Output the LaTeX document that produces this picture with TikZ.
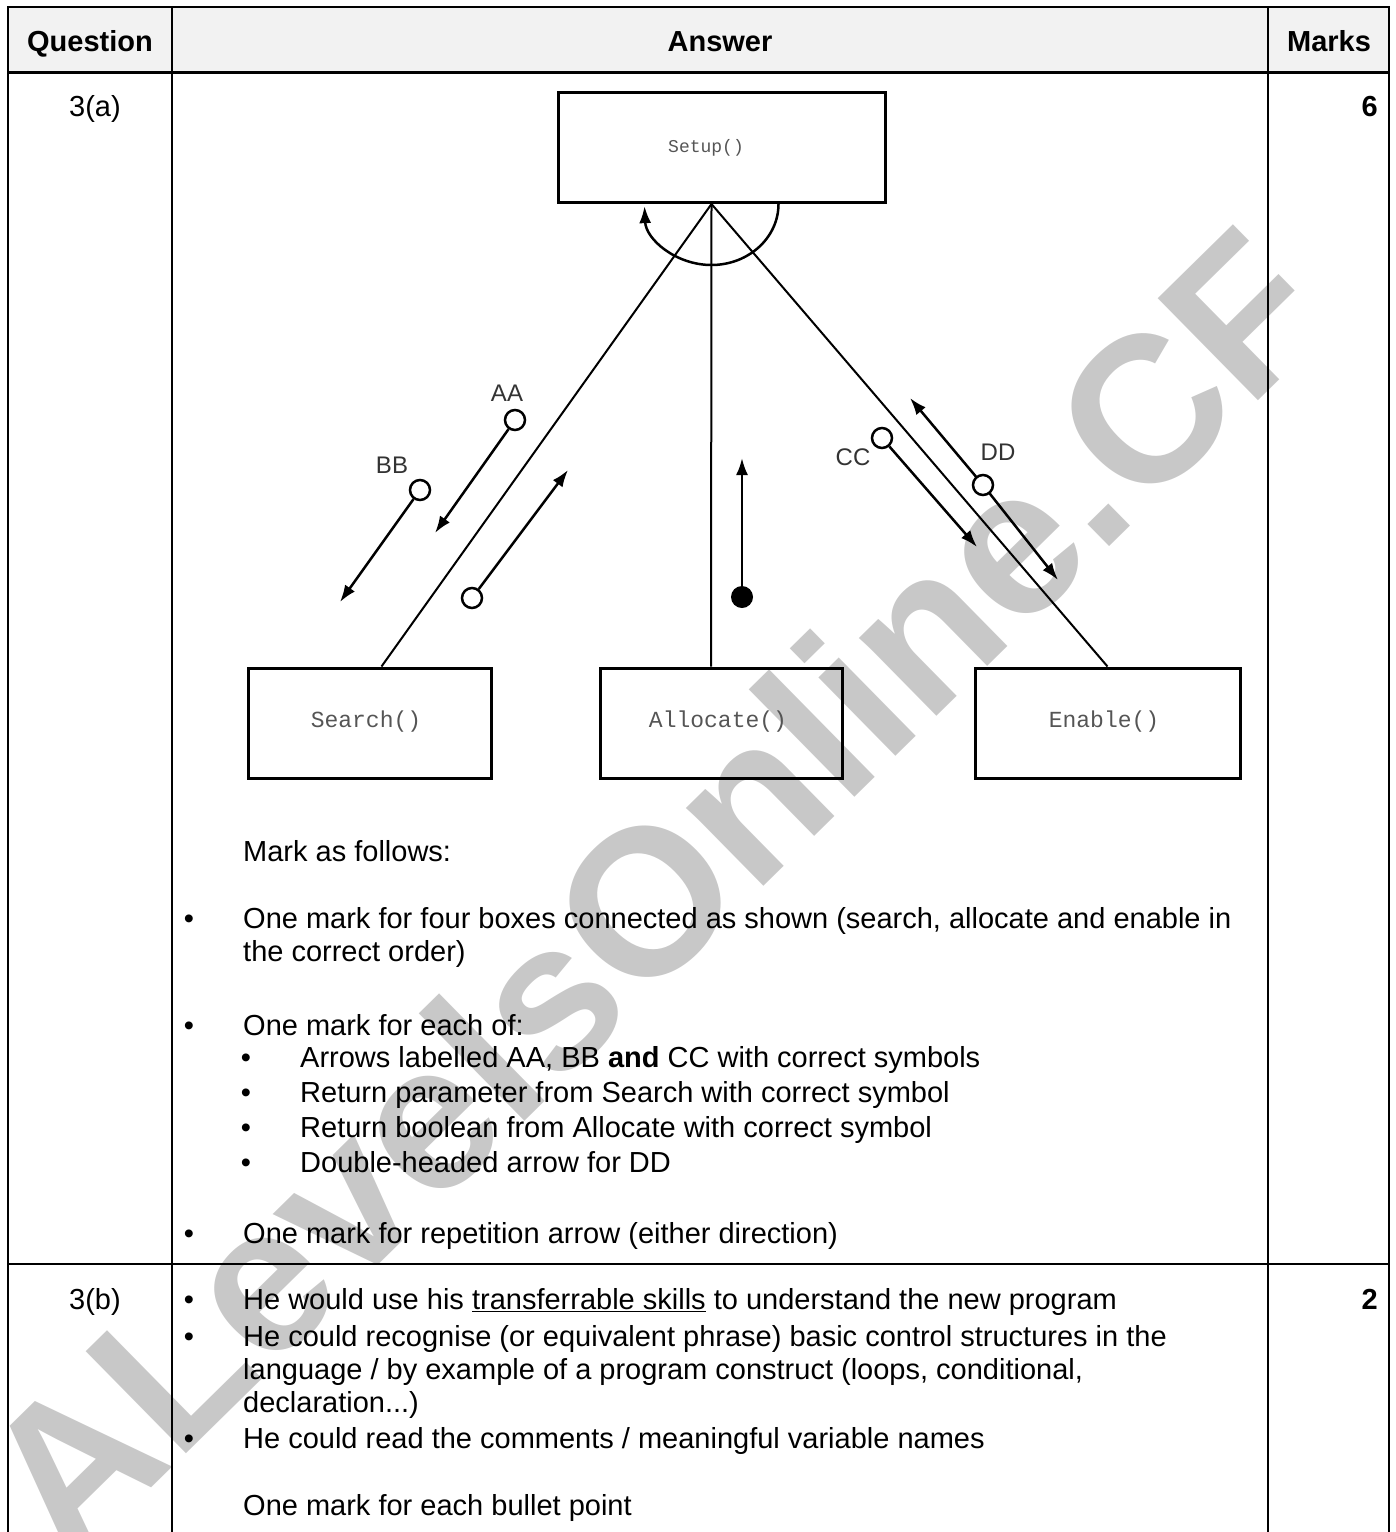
\documentclass[tikz,border=0pt]{standalone}
\usepackage{fontspec}
\setmainfont{Liberation Sans}
\setmonofont{Liberation Mono}
\usetikzlibrary{arrows.meta}

\definecolor{headgrey}{RGB}{242,242,242}
\definecolor{markgrey}{RGB}{200,200,200}
\definecolor{codegrey}{RGB}{85,85,85}

\begin{document}
\begin{tikzpicture}[x=1pt, y=-1pt,
    txt/.style={anchor=base west, inner sep=0pt, font=\fontsize{29}{33}\selectfont},
    ctr/.style={anchor=base, inner sep=0pt, font=\fontsize{29}{33}\selectfont},
    proc/.style={draw, line width=3pt, inner sep=0pt, minimum height=110pt},
    flag/.style={circle, draw, line width=2.5pt, fill=white, minimum size=20pt, inner sep=0pt},
    lbl/.style={text=black!80, inner sep=0pt, font=\fontsize{24}{24}\selectfont},
    param/.style={line width=2.5pt, -{Latex[length=17pt, width=12pt]}}]
                \useasboundingbox (0,0) rectangle (1396,1532);

                % Watermark
                \node[rotate=44.5, text=markgrey, inner sep=0pt, font=\fontsize{208}{208}\selectfont\bfseries] (wm) at (652,892) {ALevelsOnline.CF};

                % Table
                \fill[headgrey] (8,7) rectangle (1389,72);
                \draw[line width=2pt] (8,1532) -- (8,7) -- (1389,7) -- (1389,1532);
                \draw[line width=2pt] (172,7) -- (172,1532);
                \draw[line width=2pt] (1268,7) -- (1268,1532);
                \draw[line width=3pt] (8,72) -- (1389,72);
                \draw[line width=2.5pt] (8,1264) -- (1389,1264);

                % Header
                \node[ctr, font=\fontsize{29}{33}\selectfont\bfseries] (qhead) at (90,51) {Question};
                \node[ctr, font=\fontsize{29}{33}\selectfont\bfseries] (ahead) at (720,51) {Answer};
                \node[ctr, font=\fontsize{29}{33}\selectfont\bfseries] (mhead) at (1329,51) {Marks};

                % Nodes
                \node[proc, minimum width=327pt] (setup) at (721.5,147.5) {};
                \node[proc, minimum width=243pt] (search) at (369.5,723) {};
                \node[proc, minimum width=242pt] (allocate) at (721,723) {};
                \node[proc, minimum width=265pt] (enable) at (1107.5,723) {};
                \node[text=codegrey, font=\fontsize{18}{18}\ttfamily] (setuptxt) at (706,148) {Setup()};
                \node[text=codegrey, font=\fontsize{23}{23}\ttfamily] (searchtxt) at (366,722) {Search()};
                \node[text=codegrey, font=\fontsize{23}{23}\ttfamily] (allocatetxt) at (718,722) {Allocate()};
                \node[text=codegrey, font=\fontsize{23}{23}\ttfamily] (enabletxt) at (1104,722) {Enable()};
                \coordinate (apex) at ([xshift=-10]setup.south);

                \node[flag] (aa) at (515,420) {};
                \node[flag] (bb) at (420,490) {};
                \node[flag] (ret) at (472,598) {};
                \node[flag] (cc) at (882,438) {};
                \node[circle, fill=black, minimum size=22pt, inner sep=0pt] (ok) at (742,597) {};
                \coordinate (aatip) at (435,533);
                \coordinate (bbtip) at (340,602);
                \coordinate (rettip) at (568,470);
                \coordinate (cctip) at (977,547);
                \coordinate (oktip) at (742,458);
                \coordinate (ddup) at (910,398);
                \coordinate (dddown) at (1058,580);

                \node[lbl] (aalbl) at (507,393) {AA};
                \node[lbl] (bblbl) at (392,465) {BB};
                \node[lbl] (cclbl) at (853,457) {CC};
                \node[lbl] (ddlbl) at (998,452) {DD};

                % Edges
                \draw[line width=2pt] (apex) -- ([xshift=12]search.north);
                \draw[line width=2pt] (apex) -- ([xshift=-10]allocate.north);
                \draw[line width=2pt] (apex) -- (enable.north);
                \draw[line width=2.5pt, -{Latex[length=17pt, width=12pt]}] ([shift={(67,0)}]apex) arc[start angle=0, end angle=178, x radius=67, y radius=61];

                \draw[param] (aa) -- (aatip);
                \draw[param] (bb) -- (bbtip);
                \draw[param] (ret) -- (rettip);
                \draw[param] (cc) -- (cctip);
                \draw[param] (ok) -- (oktip);
                \draw[param] (983,485) -- (ddup);
                \draw[param] (983,485) -- (dddown);
                \node[flag] (dd) at (983,485) {};

                % Row 3(a)
                \node[ctr] (qa) at (95,116) {3(a)};
                \node[anchor=base east, inner sep=0pt, font=\fontsize{29}{33}\selectfont\bfseries] (ma) at (1378,116) {6};
                \node[txt] (t1) at (243,861) {Mark as follows:};
                \node[ctr] (b1) at (189,928) {•};
                \node[txt] (t2) at (243,928) {One mark for four boxes connected as shown (search, allocate and enable in};
                \node[txt] (t3) at (243,961) {the correct order)};
                \node[ctr] (b2) at (189,1035) {•};
                \node[txt] (t4) at (243,1035) {One mark for each of:};
                \node[ctr] (s1) at (246,1067) {•};
                \node[txt] (t5) at (300,1067) {Arrows labelled AA, BB \textbf{and} CC with correct symbols};
                \node[ctr] (s2) at (246,1102) {•};
                \node[txt] (t6) at (300,1102) {Return parameter from Search with correct symbol};
                \node[ctr] (s3) at (246,1137) {•};
                \node[txt] (t7) at (300,1137) {Return boolean from Allocate with correct symbol};
                \node[ctr] (s4) at (246,1172) {•};
                \node[txt] (t8) at (300,1172) {Double-headed arrow for DD};
                \node[ctr] (b3) at (189,1243) {•};
                \node[txt] (t9) at (243,1243) {One mark for repetition arrow (either direction)};

                % Row 3(b)
                \node[ctr] (qb) at (95,1309) {3(b)};
                \node[anchor=base east, inner sep=0pt, font=\fontsize{29}{33}\selectfont\bfseries] (mb) at (1378,1309) {2};
                \node[ctr] (b4) at (189,1309) {•};
                \node[txt] (u1) at (243,1309) {He would use his \underline{transferrable skills} to understand the new program};
                \node[ctr] (b5) at (189,1346) {•};
                \node[txt] (u2) at (243,1346) {He could recognise (or equivalent phrase) basic control structures in the};
                \node[txt] (u3) at (243,1379) {language / by example of a program construct (loops, conditional,};
                \node[txt] (u4) at (243,1412) {declaration...)};
                \node[ctr] (b6) at (189,1448) {•};
                \node[txt] (u5) at (243,1448) {He could read the comments / meaningful variable names};
                \node[txt] (u6) at (243,1515) {One mark for each bullet point};
            \end{tikzpicture}
\end{document}
